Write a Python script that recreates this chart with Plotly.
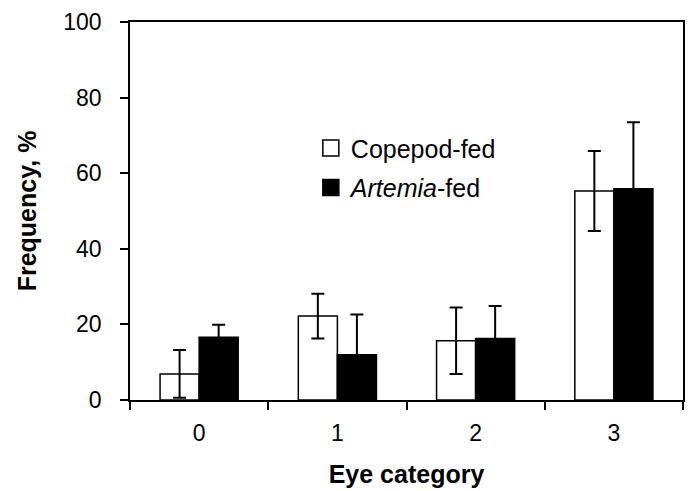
import plotly.graph_objects as go

categories = ["0", "1", "2", "3"]
copepod = [6.9, 22.2, 15.7, 55.3]
copepod_err = [6.3, 5.9, 8.8, 10.6]
artemia = [16.6, 12.0, 16.3, 55.9]
artemia_err = [3.3, 10.6, 8.6, 17.6]
y_ticks = [0, 20, 40, 60, 80, 100]
series_names = ["Copepod-fed", "<i>Artemia</i>-fed"]
series_fill = ["white", "black"]

FONT = "Liberation Sans, Arial, sans-serif"

fig = go.Figure()
for vals, errs, name, fill in [(copepod, copepod_err, series_names[0], series_fill[0]),
                               (artemia, artemia_err, series_names[1], series_fill[1])]:
    fig.add_trace(go.Bar(
        x=categories, y=vals, name=name, showlegend=False,
        marker=dict(color=fill, line=dict(color="black", width=1.5)),
        error_y=dict(type="data", array=errs, color="black", thickness=2, width=6.5),
    ))

# legend entries with larger square swatches
for i, (name, fill) in enumerate(zip(series_names, series_fill)):
    fig.add_trace(go.Scatter(
        x=[None], y=[None], mode="markers", name=name, showlegend=True,
        legendgroup=f"g{i}",
        marker=dict(symbol="square", size=17, color=fill, line=dict(color="black", width=1.5)),
    ))

fig.update_layout(
    width=690, height=491,
    margin=dict(l=130, r=5, t=22, b=91),
    paper_bgcolor="white", plot_bgcolor="white",
    barmode="group", bargap=0.435, bargroupgap=0,
    font=dict(family=FONT, size=23, color="black"),
    showlegend=True,
    legend=dict(x=0.327, y=0.727, xanchor="left", yanchor="top",
                font=dict(size=25), bgcolor="rgba(0,0,0,0)",
                tracegroupgap=4, itemsizing="trace", itemwidth=30),
    xaxis=dict(
        type="category", tickson="boundaries", ticks="outside", ticklen=8,
        tickwidth=1.5, tickcolor="black",
        showline=True, linecolor="black", linewidth=1.5, mirror=True,
        showgrid=False, ticklabelstandoff=12,
        title=dict(text="<b>Eye category</b>", font=dict(size=25), standoff=20),
    ),
    yaxis=dict(
        range=[0, 100], tickvals=y_ticks, ticks="outside", ticklen=8,
        tickwidth=1.5, tickcolor="black",
        showline=True, linecolor="black", linewidth=1.5, mirror=True,
        showgrid=False, zeroline=False, ticklabelstandoff=14,
        title=dict(text="<b>Frequency, %</b>", font=dict(size=25), standoff=20),
    ),
)

fig.write_html("out.html", config={"displayModeBar": False},
               post_script="document.body.style.margin='0';")
